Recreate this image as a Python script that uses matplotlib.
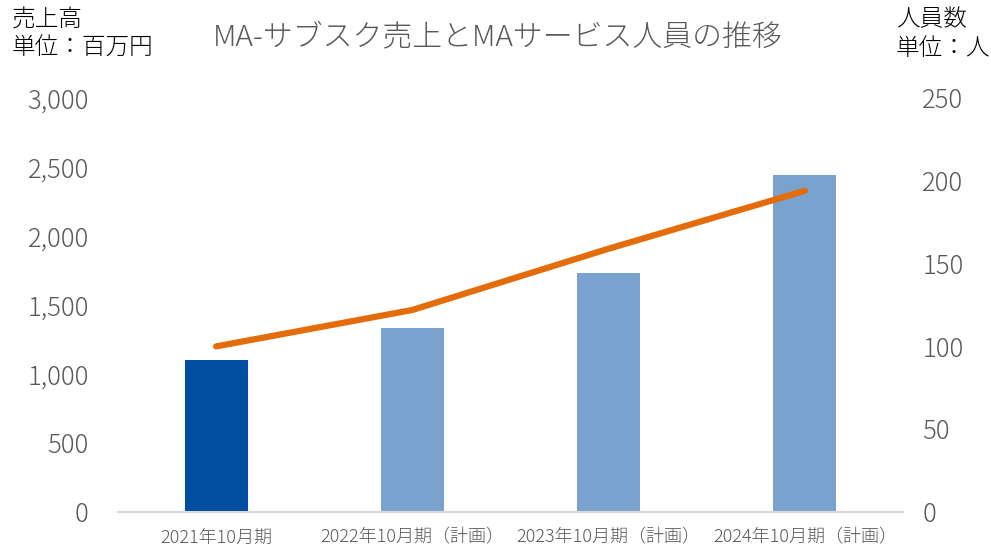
import matplotlib.pyplot as plt
import numpy as np
from matplotlib.ticker import FuncFormatter

plt.rcParams['font.family'] = ['Noto Sans CJK JP', 'DejaVu Sans']

categories = ["2021年10月期", "2022年10月期（計画）", "2023年10月期（計画）", "2024年10月期（計画）"]
sales = [1104, 1330, 1733, 2442]          # 売上高（百万円）
staff = [100, 122, 159, 194]               # 人員数（人）
bar_colors = ["#004EA2", "#7AA2CE", "#7AA2CE", "#7AA2CE"]

fig = plt.figure(figsize=(9.91, 5.48), dpi=100)
ax = fig.add_axes([118 / 991, 1 - 512 / 548, 785 / 991, 414 / 548])
x = np.arange(len(categories))

ax.bar(x, sales, width=0.32, color=bar_colors, zorder=2)
ax.set_xlim(-0.5, 3.5)
ax.set_ylim(0, 3000)
ax.set_yticks(range(0, 3001, 500))
ax.yaxis.set_major_formatter(FuncFormatter(lambda v, p: f"{int(v):,}"))
ax.set_xticks(x)
ax.set_xticklabels(categories, fontsize=13, color="#595959", fontweight="light")
ax.tick_params(axis="y", length=0, pad=21, labelsize=18.5, labelcolor="#595959")
ax.tick_params(axis="x", length=0, pad=12)
for lbl in ax.get_yticklabels():
    lbl.set_fontweight("light")
for s in ["top", "right", "left"]:
    ax.spines[s].set_visible(False)
ax.spines["bottom"].set_color("#D9D9D9")
ax.spines["bottom"].set_linewidth(1.5)

ax2 = ax.twinx()
ax2.plot(x, staff, color="#E46C0A", linewidth=4.5, solid_capstyle="round", zorder=3)
ax2.set_ylim(0, 250)
ax2.set_yticks(range(0, 251, 50))
ax2.tick_params(axis="y", length=0, pad=14, labelsize=18.5, labelcolor="#595959")
for lbl in ax2.get_yticklabels():
    lbl.set_fontweight("light")
for s in ["top", "right", "left", "bottom"]:
    ax2.spines[s].set_visible(False)

fig.text(0.502, 1 - 38 / 548, "MA-サブスク売上とMAサービス人員の推移", ha="center", va="center",
         fontsize=21.5, color="#595959", fontweight="light")
fig.text(12 / 991, 1 - 7 / 548, "売上高\n単位：百万円", ha="left", va="top", fontsize=17,
         color="#000000", linespacing=1.2, fontweight="light")
fig.text(896 / 991, 1 - 7 / 548, "人員数\n単位：人", ha="left", va="top", fontsize=17,
         color="#000000", linespacing=1.2, fontweight="light")

fig.savefig("out.png", dpi=100)
